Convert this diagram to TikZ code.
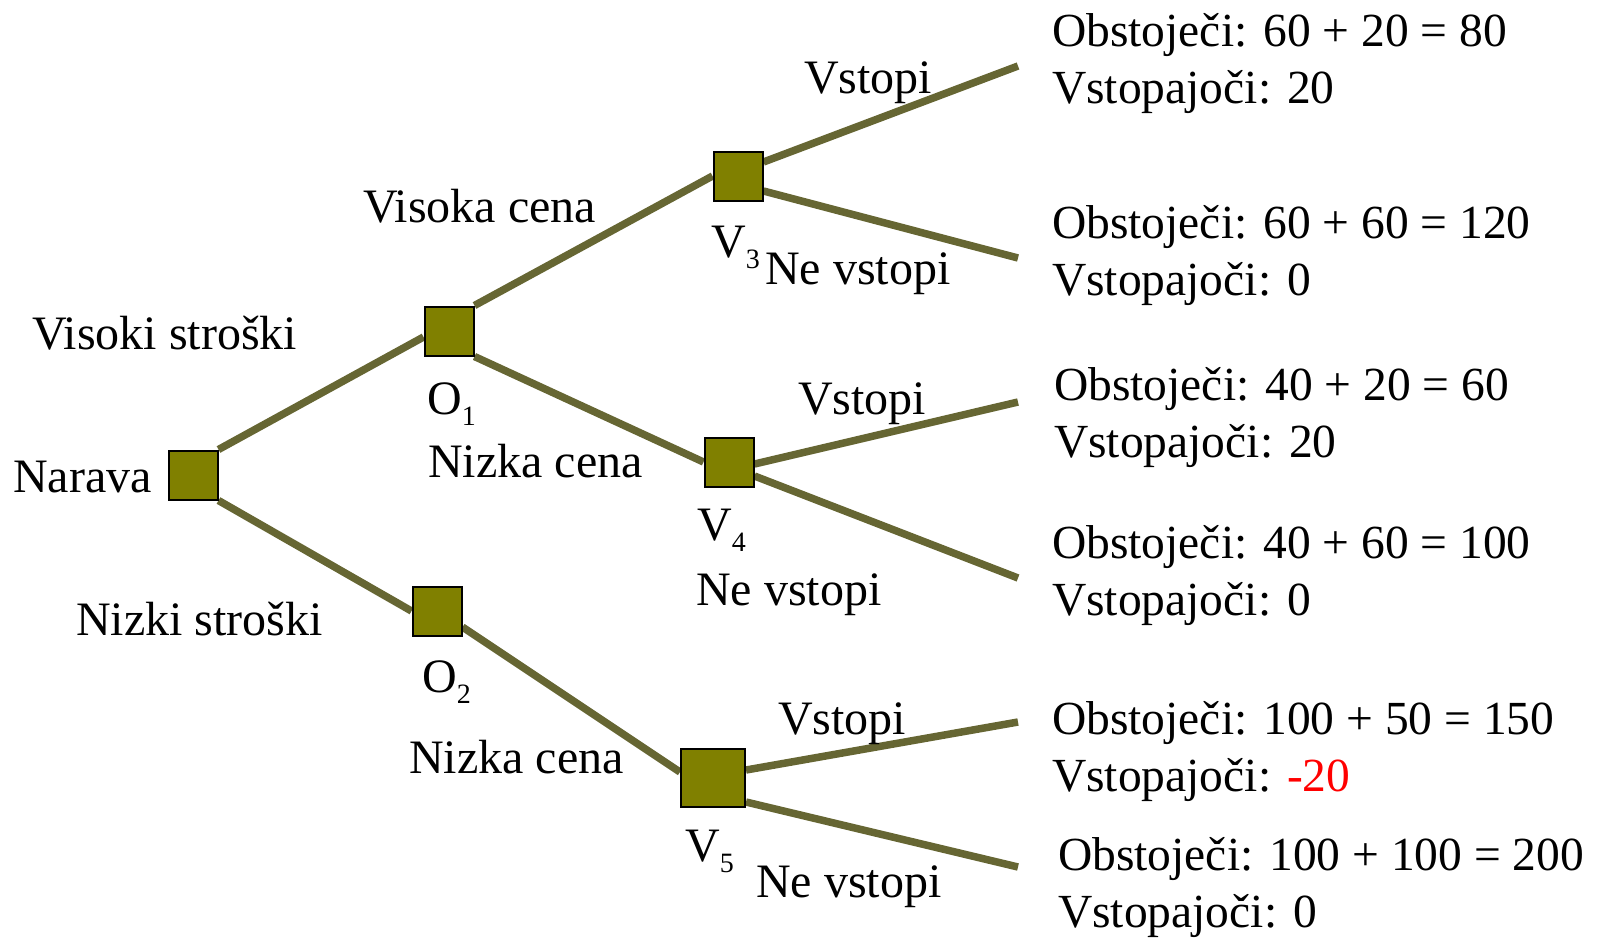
\documentclass[tikz,border=0pt]{standalone}
\usepackage{fontspec}
\setmainfont{Liberation Serif}
\usetikzlibrary{calc,backgrounds}
\definecolor{boxfill}{HTML}{808000}
\definecolor{branchcol}{HTML}{666633}
\newcommand\lowidx[1]{\raisebox{-11pt}{\fontsize{28}{28}\selectfont #1}}
\begin{document}
\begin{tikzpicture}[x=1pt,y=-1pt,
  chance/.style={draw=black, line width=2pt, fill=boxfill,
    minimum width=49pt, minimum height=49pt, inner sep=0pt},
  bigchance/.style={chance, minimum width=64pt, minimum height=58pt},
  branch/.style={draw=branchcol, line width=7.5pt},
  lbl/.style={anchor=base west, inner sep=0pt, font=\fontsize{48}{57}\selectfont},
  payoff/.style={lbl, font=\fontsize{47.5}{57}\selectfont},
]
\useasboundingbox (0,0) rectangle (1602,938);

% decision boxes
\node[chance] (nar) at (193,475) {};
\node[chance] (o1) at (449,331) {};
\node[chance] (o2) at (437,611) {};
\node[chance] (v3) at (738,176) {};
\node[chance] (v4) at (729,462) {};
\node[bigchance] (v5) at (713,778) {};

% free ends of the last branches
\coordinate (e1) at (1018,66);
\coordinate (e2) at (1018,258);
\coordinate (e3) at (1018,402);
\coordinate (e4) at (1018,578);
\coordinate (e5) at (1018,722);
\coordinate (e6) at (1018,867);

\begin{scope}[on background layer]
  \draw[branch] (nar.north east) -- ($(o1.west)+(0,6)$);
  \draw[branch] (nar.south east) -- (o2.west);
  \draw[branch] (o1.north east) -- (v3.west);
  \draw[branch] (o1.south east) -- (v4.west);
  \draw[branch] ($(o2.east)+(0,16)$) -- ($(v5.west)+(0,-6)$);
  \draw[branch] ($(v3.east)+(0,-14)$) -- (e1);
  \draw[branch] ($(v3.east)+(0,15)$) -- (e2);
  \draw[branch] ($(v4.east)+(0,2)$) -- (e3);
  \draw[branch] ($(v4.east)+(0,14)$) -- (e4);
  \draw[branch] ($(v5.east)+(0,-8)$) -- (e5);
  \draw[branch] ($(v5.east)+(0,24)$) -- (e6);
\end{scope}

% node names
\node[lbl] (tnar) at (13,492) {Narava};
\node[lbl] (to1) at (427,414) {O\lowidx{1}};
\node[lbl] (to2) at (422,692) {O\lowidx{2}};
\node[lbl] (tv3) at (711,257) {V\lowidx{3}};
\node[lbl] (tv4) at (697,540) {V\lowidx{4}};
\node[lbl] (tv5) at (685,861) {V\lowidx{5}};

% branch labels
\node[lbl] (lvs) at (32,349) {Visoki stroški};
\node[lbl] (lns) at (76,635) {Nizki stroški};
\node[lbl] (lvc) at (363,222) {Visoka cena};
\node[lbl] (lnc1) at (428,477) {Nizka cena};
\node[lbl] (lnc2) at (409,773) {Nizka cena};
\node[lbl] (lv1) at (804,93) {Vstopi};
\node[lbl] (ln1) at (765,284) {Ne vstopi};
\node[lbl] (lv2) at (798,414) {Vstopi};
\node[lbl] (ln2) at (696,605) {Ne vstopi};
\node[lbl] (lv3) at (778,734) {Vstopi};
\node[lbl] (ln3) at (756,897) {Ne vstopi};

% payoffs
\node[payoff] (p1a) at (1052,46) {Obstoječi: 60 + 20 = 80};
\node[payoff] (p1b) at (1052,103) {Vstopajoči: 20};
\node[payoff] (p2a) at (1052,238) {Obstoječi: 60 + 60 = 120};
\node[payoff] (p2b) at (1052,295) {Vstopajoči: 0};
\node[payoff] (p3a) at (1054,400) {Obstoječi: 40 + 20 = 60};
\node[payoff] (p3b) at (1054,457) {Vstopajoči: 20};
\node[payoff] (p4a) at (1052,558) {Obstoječi: 40 + 60 = 100};
\node[payoff] (p4b) at (1052,615) {Vstopajoči: 0};
\node[payoff] (p5a) at (1052,734) {Obstoječi: 100 + 50 = 150};
\node[payoff] (p5b) at (1052,791) {Vstopajoči: \textcolor{red}{-20}};
\node[payoff] (p6a) at (1058,870) {Obstoječi: 100 + 100 = 200};
\node[payoff] (p6b) at (1058,927) {Vstopajoči: 0};
\end{tikzpicture}
\end{document}
